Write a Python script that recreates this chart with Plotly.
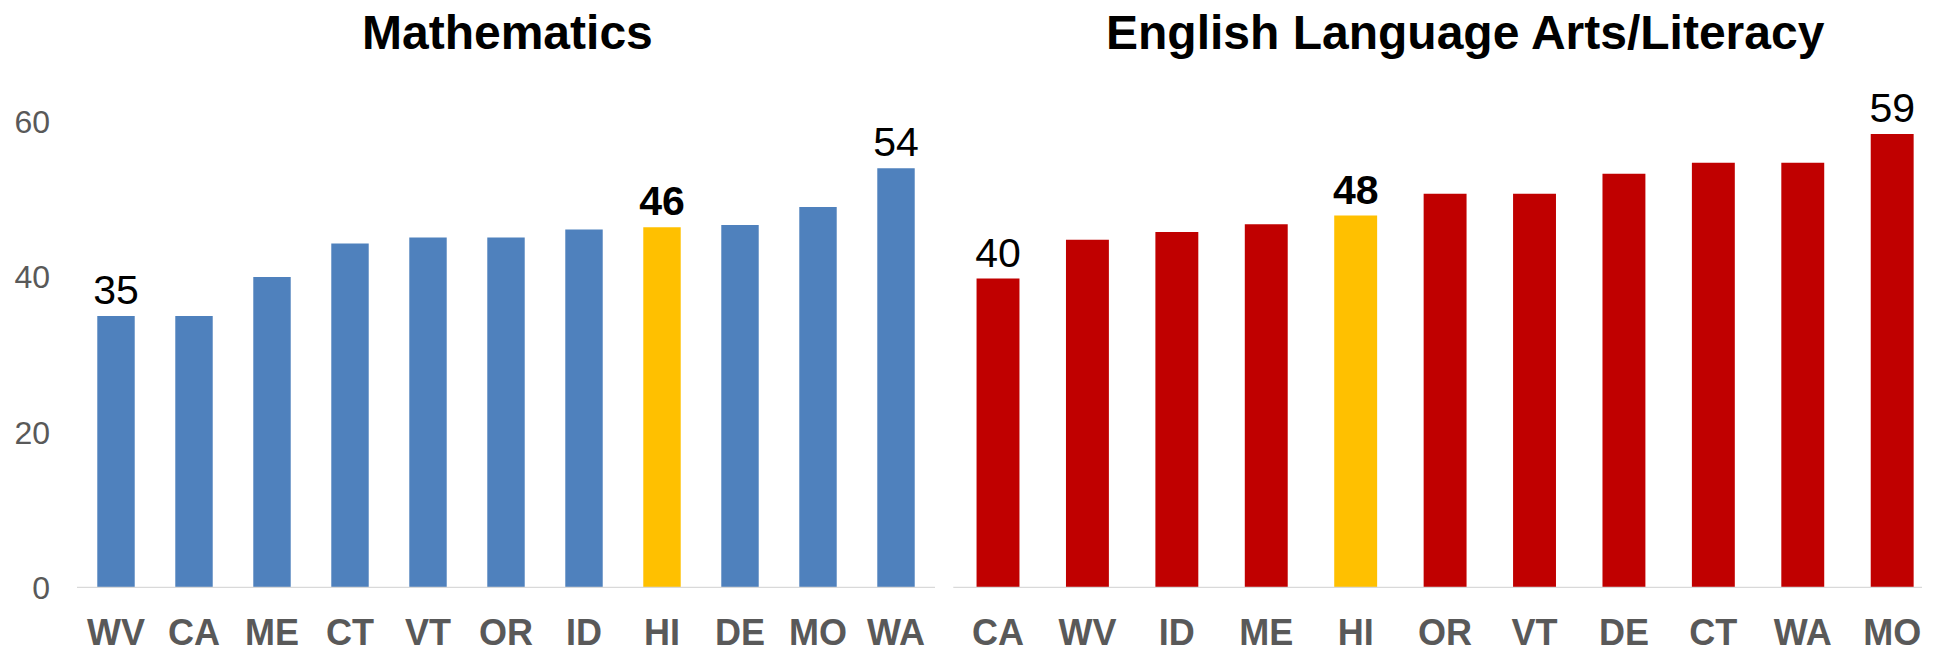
import plotly.graph_objects as go

# ---- data ----
math_states = ["WV", "CA", "ME", "CT", "VT", "OR", "ID", "HI", "DE", "MO", "WA"]
math_values = [35.0, 35.0, 40.0, 44.3, 45.1, 45.1, 46.1, 46.4, 46.7, 49.0, 54.0]
math_labels = ["35", "", "", "", "", "", "", "<b>46</b>", "", "", "54"]

ela_states = ["CA", "WV", "ID", "ME", "HI", "OR", "VT", "DE", "CT", "WA", "MO"]
ela_values = [39.8, 44.8, 45.8, 46.8, 47.9, 50.7, 50.7, 53.3, 54.7, 54.7, 58.4]
ela_labels = ["40", "", "", "", "<b>48</b>", "", "", "", "", "", "59"]

y_ticks = [0, 20, 40, 60]
highlight_state = "HI"
titles = ["Mathematics", "English Language Arts/Literacy"]

# ---- styling / geometry (reference pixel coords, page has 8px body margin) ----
OFF = 8
FW, FH = 1942 - OFF, 649 - OFF
FONT = "Liberation Sans, Arial, sans-serif"
BLUE, RED, GOLD = "#4F81BD", "#C00000", "#FFC000"
GRAY = "#595959"
plot_top, plot_bottom = 106 - OFF, 588.5 - OFF
plot_h = plot_bottom - plot_top
y_max = 62


def px_x(x):
    return (x - OFF) / FW


def px_y(y):
    return (plot_bottom - (y - OFF)) / plot_h


math_colors = [GOLD if s == highlight_state else BLUE for s in math_states]
ela_colors = [GOLD if s == highlight_state else RED for s in ela_states]

fig = go.Figure()
fig.add_trace(go.Bar(
    x=math_states, y=math_values, marker=dict(color=math_colors, line=dict(width=0)),
    text=math_labels, textposition="outside", cliponaxis=False, constraintext="none",
    textfont=dict(family=FONT, size=41, color="black"),
    xaxis="x", yaxis="y", showlegend=False, hoverinfo="x+y",
))
fig.add_trace(go.Bar(
    x=ela_states, y=ela_values, marker=dict(color=ela_colors, line=dict(width=0)),
    text=ela_labels, textposition="outside", cliponaxis=False, constraintext="none",
    textfont=dict(family=FONT, size=41, color="black"),
    xaxis="x2", yaxis="y2", showlegend=False, hoverinfo="x+y",
))

left_dom = [px_x(77), px_x(935)]
right_dom = [px_x(953.3), px_x(1936.9)]

xcommon = dict(
    showgrid=False, zeroline=False, showline=False, ticks="",
    tickfont=dict(family=FONT, size=36, color=GRAY, weight="bold"),
    ticklabelstandoff=20, automargin=False, fixedrange=True,
)
ycommon = dict(
    range=[0, y_max], tickvals=y_ticks, showgrid=False, zeroline=False,
    showline=False, ticks="", automargin=False, fixedrange=True,
    tickfont=dict(family=FONT, size=32, color=GRAY),
)

fig.update_layout(
    width=FW, height=FH,
    margin=dict(l=0, r=0, t=plot_top, b=FH - plot_bottom, pad=0),
    paper_bgcolor="white", plot_bgcolor="white",
    template="none",
    bargap=0.52,
    font=dict(family=FONT),
    xaxis=dict(domain=left_dom, anchor="y", **xcommon),
    xaxis2=dict(domain=right_dom, anchor="y2", **xcommon),
    yaxis=dict(anchor="x", showticklabels=True, ticklabelstandoff=26, **ycommon),
    yaxis2=dict(anchor="x2", showticklabels=False, **ycommon),
)

# baselines
fig.add_shape(type="line", xref="x domain", yref="y", x0=0, x1=1, y0=0, y1=0,
              line=dict(color="#D9D9D9", width=2.5), layer="above")
fig.add_shape(type="line", xref="x2 domain", yref="y2", x0=0, x1=(1922 - 953.3) / (1936.9 - 953.3),
              y0=0, y1=0, line=dict(color="#D9D9D9", width=2.5), layer="above")

# panel titles
for txt, cx in zip(titles, [507, 1465]):
    fig.add_annotation(
        text=f"<b>{txt}</b>", xref="paper", yref="paper",
        x=px_x(cx), y=px_y(32), xanchor="center", yanchor="middle",
        showarrow=False, font=dict(family=FONT, size=48, color="black"),
    )

fig.write_html("out.html")
